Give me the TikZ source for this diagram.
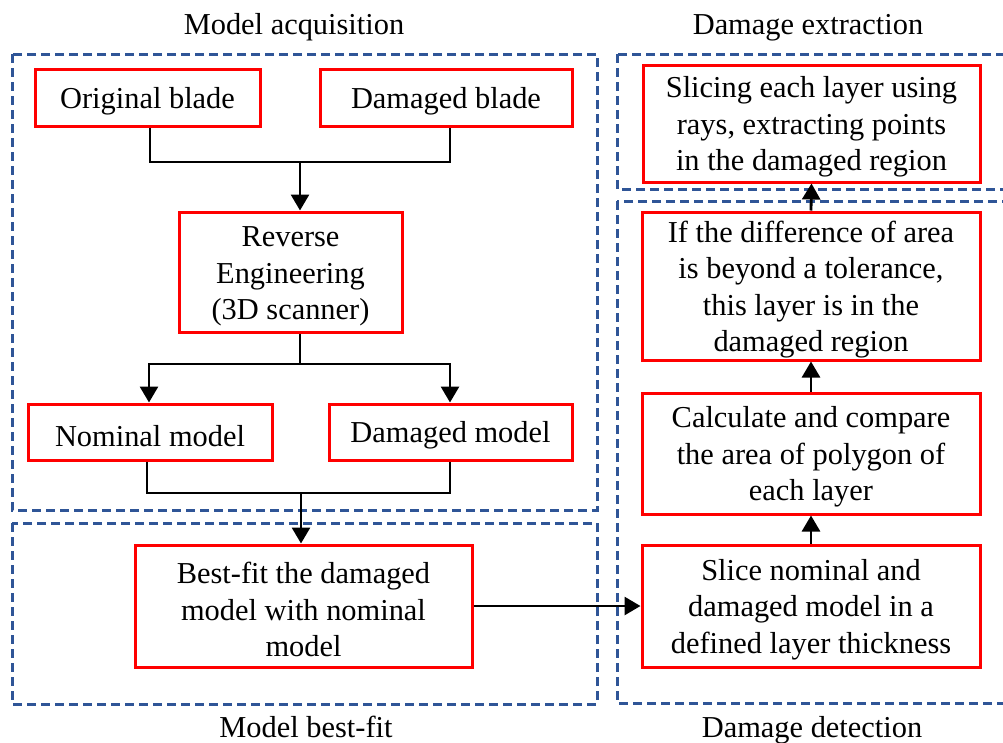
\documentclass[tikz,border=0pt]{standalone}
\usepackage{fontspec}
\setmainfont{Liberation Serif}
\usetikzlibrary{arrows.meta,calc}
\definecolor{frameblue}{RGB}{47,85,151}
\definecolor{boxred}{RGB}{255,0,0}
% taller first line, lowers the text block inside its box
\newcommand{\topstrut}{\rule{0pt}{28.5pt}}
\begin{document}
\begin{tikzpicture}[x=1pt,y=-1pt,
  font=\fontsize{30.4}{36.5}\selectfont,
  stepbox/.style 2 args={draw=boxred, line width=3pt, align=center, inner sep=0pt,
    minimum width=#1, minimum height=#2},
  stage/.style={draw=frameblue, line width=3pt, dash pattern=on 9pt off 5pt},
  title/.style={inner sep=0pt, anchor=base},
  link/.style={draw=black, line width=2.8pt},
  flow/.style={link, -{Triangle[length=16pt, width=18pt]}},
]
\useasboundingbox (0,0) rectangle (1003,742);
\clip (0,0) rectangle (1003,742);

% stage frames
\draw[stage] (12,54) rectangle (597,510);
\draw[stage] (12,523) rectangle (597,704);
\draw[stage] (617,54) rectangle (1012,189);
\draw[stage] (617,201) rectangle (1012,703);

% stage titles
\node[title] (tacq) at (294,34) {Model acquisition};
\node[title] (text) at (808,34) {Damage extraction};
\node[title] (tbf) at (306,737) {Model best-fit};
\node[title] (tdet) at (812,737) {Damage detection};

% model acquisition
\node[stepbox={225pt}{57pt}] (orig) at (147.5,97.5) {\topstrut Original blade};
\node[stepbox={252pt}{57pt}] (dmgb) at (446,97.5) {\topstrut Damaged blade};
\node[stepbox={223pt}{120pt}] (re) at (290.5,272) {\topstrut Reverse\\Engineering\\(3D scanner)};
\node[stepbox={244pt}{56pt}] (nom) at (150,432) {\topstrut Nominal model};
\node[stepbox={243pt}{56pt}] (dmgm) at (450.5,432) {\topstrut Damaged model};

% model best-fit
\node[stepbox={337pt}{122pt}] (fit) at (303.5,606) {\topstrut Best-fit the damaged\\model with nominal\\model};

% damage detection and extraction
\node[stepbox={337pt}{117pt}] (ray) at (811.5,123.5) {\topstrut Slicing each layer using\\rays, extracting points\\in the damaged region};
\node[stepbox={338pt}{148pt}] (tol) at (811,286) {\topstrut If the difference of area\\is beyond a tolerance,\\this layer is in the\\damaged region};
\node[stepbox={338pt}{121pt}] (area) at (811,453.5) {\topstrut Calculate and compare\\the area of polygon of\\each layer};
\node[stepbox={338pt}{122pt}] (slice) at (811,606) {\topstrut Slice nominal and\\damaged model in a\\defined layer thickness};

% joins
\coordinate (j1) at (300,162);
\coordinate (j2) at (300,364);
\coordinate (j3) at (301,493);

\draw[link] (orig.south -| 150,0) |- (j1) -| (dmgb.south -| 450,0);
\draw[flow] (j1) -- (j1 |- re.north);

\draw[link] (j2 |- re.south) -- (j2);
\draw[flow] (j2) -| (nom.north -| 149,0);
\draw[flow] (j2) -| (dmgm.north -| 450,0);

\draw[link] (nom.south -| 147,0) |- (j3) -| (dmgm.south -| 450,0);
\draw[flow] (j3) -- (j3 |- fit.north);

\draw[flow] (fit.east) -- (slice.west);
\draw[flow] (slice.north) -- (area.south);
\draw[flow] (area.north) -- (tol.south);
\draw[flow] (tol.north) -- (ray.south);
\end{tikzpicture}
\end{document}
